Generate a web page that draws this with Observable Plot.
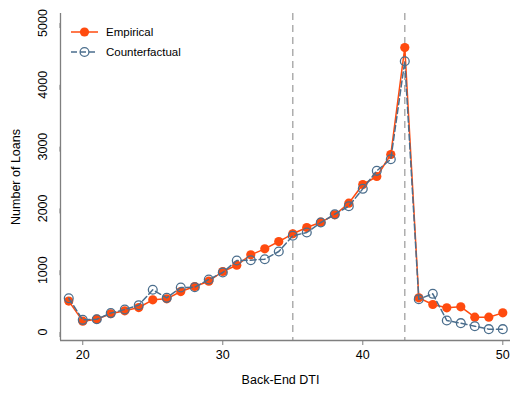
<!DOCTYPE html>
<html>
<head>
<meta charset="utf-8">
<script src="https://cdn.jsdelivr.net/npm/d3@7"></script>
<script src="https://cdn.jsdelivr.net/npm/@observablehq/plot@0.6"></script>
<style>
  html, body { margin: 0; padding: 0; background: #fff; }
  #wrap { position: relative; width: 510px; height: 394px; }
  #legend { position: absolute; left: 0; top: 0; }
</style>
</head>
<body>
<div id="wrap"><div id="chart"></div><svg id="legend" width="200" height="70"></svg></div>
<script>
const dti = [19,20,21,22,23,24,25,26,27,28,29,30,31,32,33,34,35,36,37,38,39,40,41,42,43,44,45,46,47,48,49,50];
const empirical = [500,175,207,295,343,396,521,537,655,736,822,979,1081,1249,1346,1464,1589,1691,1777,1896,2084,2387,2516,2872,4603,553,445,391,407,240,240,310];
const counterfactual = [547,197,207,306,364,434,683,553,720,725,850,963,1157,1162,1178,1303,1557,1610,1772,1906,2036,2317,2608,2796,4382,531,618,186,143,94,46,46];
const refLines = [35, 43];
const xTicks = [20, 30, 40, 50];
const yTicks = [0, 1000, 2000, 3000, 4000, 5000];
const seriesNames = ["Empirical", "Counterfactual"];

const ORANGE = "#ff4b0f";
const BLUE = "#4b6e8d";
const AXIS = "#7f7f7f";
const FONT = "'Liberation Sans', Arial, Helvetica, sans-serif";

const xDomain = [18.41, 50.55];
const yDomain = [-137.5, 5154];

const emp = dti.map((x, i) => ({x, y: empirical[i]}));
const cf = dti.map((x, i) => ({x, y: counterfactual[i]}));

const plot = Plot.plot({
  width: 510,
  height: 394,
  marginLeft: 60,
  marginRight: 0,
  marginTop: 13,
  marginBottom: 54,
  style: {fontFamily: FONT, fontSize: "12px", color: "#000", background: "#fff"},
  x: {domain: xDomain},
  y: {domain: yDomain},
  marks: [
    Plot.ruleX(refLines, {stroke: "#a8a8a8", strokeWidth: 1.4, strokeDasharray: "7,5"}),
    Plot.ruleY([yDomain[0]], {stroke: AXIS, strokeWidth: 1.3}),
    Plot.ruleX([xDomain[0]], {stroke: AXIS, strokeWidth: 1.3}),
    Plot.axisX(xTicks, {tickSize: 5, tickPadding: 5, stroke: AXIS, fill: "#000", label: null, fontSize: 12.5, tickFormat: d => String(d)}),
    Plot.axisY(yTicks, {tickSize: 5, tickPadding: 13, rotate: -90, textAnchor: "middle", stroke: AXIS, fill: "#000", label: null, fontSize: 12.5, tickFormat: d => String(d)}),
    Plot.text(["Back-End DTI"], {frameAnchor: "bottom", text: d => d, dy: 43, dx: -5, fontSize: 12.5, fill: "#000"}),
    Plot.text(["Number of Loans"], {
      x: () => xDomain[0] - (xDomain[1] - xDomain[0]) * 0.1,
      y: () => (yDomain[0] + yDomain[1]) / 2,
      text: d => d, rotate: -90, fontSize: 12.5, fill: "#000"
    }),
    Plot.line(emp, {x: "x", y: "y", stroke: ORANGE, strokeWidth: 1.5}),
    Plot.dot(emp, {x: "x", y: "y", r: 4.6, fill: ORANGE, stroke: "none"}),
    Plot.line(cf, {x: "x", y: "y", stroke: BLUE, strokeWidth: 1.5, strokeDasharray: "6,3"}),
    Plot.dot(cf, {x: "x", y: "y", r: 4.4, fill: "none", stroke: BLUE, strokeWidth: 1.3})
  ]
});
document.getElementById("chart").appendChild(plot);

const lg = d3.select("#legend");
const rows = [
  {name: seriesNames[0], color: ORANGE, dash: null, filled: true, y: 32},
  {name: seriesNames[1], color: BLUE, dash: "6,3", filled: false, y: 52}
];
rows.forEach(r => {
  lg.append("line").attr("x1", 71).attr("x2", 98).attr("y1", r.y).attr("y2", r.y)
    .attr("stroke", r.color).attr("stroke-width", 1.5).attr("stroke-dasharray", r.dash);
  lg.append("circle").attr("cx", 84.5).attr("cy", r.y).attr("r", r.filled ? 4.6 : 4.4)
    .attr("fill", r.filled ? r.color : "none").attr("stroke", r.filled ? "none" : r.color).attr("stroke-width", 1.3);
  lg.append("text").attr("x", 106).attr("y", r.y).attr("dy", "0.35em")
    .attr("font-family", FONT).attr("font-size", 11.5).attr("fill", "#000").text(r.name);
});
</script>
</body>
</html>
